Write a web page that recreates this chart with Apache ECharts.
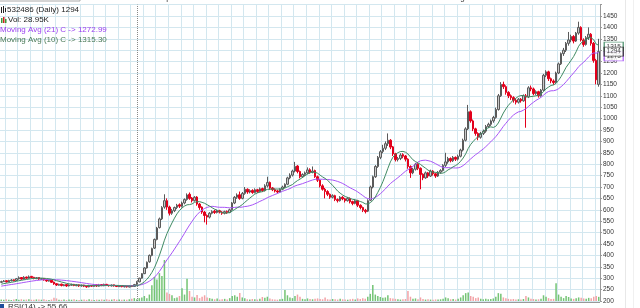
<!DOCTYPE html>
<html><head><meta charset="utf-8">
<script src="https://cdn.jsdelivr.net/npm/echarts/dist/echarts.min.js"></script>
<style>html,body{margin:0;padding:0;background:#fff}#c{width:640px;height:308px}</style>
</head><body><div id="c"></div>
<script>
// Daily candles: [open, close, low, high]
const ohlc = [
[282,285,279,289],[285,288,283,292],[289,284,281,291],[284,290,282,293],[289,292,286,296],
[293,289,286,295],[290,298,288,301],[297,302,294,308],[303,296,293,305],[296,304,294,309],
[305,300,297,307],[300,306,298,312],[308,303,299,310],[304,299,295,306],[298,302,296,305],
[303,296,292,304],[295,298,292,301],[299,292,289,300],[293,288,284,295],[287,290,285,293],
[291,282,279,292],[283,275,271,285],[276,270,266,278],[269,273,267,276],[274,268,264,276],
[267,271,265,274],[272,266,262,274],[266,270,264,273],[269,272,267,276],[273,268,265,275],
[267,271,265,274],[271,266,262,273],[266,269,263,272],[270,265,261,271],[265,262,258,267],
[262,268,260,271],[268,265,262,270],[264,270,263,274],[271,266,262,272],[265,271,263,275],
[272,268,265,274],[267,273,265,276],[273,269,266,275],[270,267,263,271],[266,270,264,272],
[271,266,263,272],[266,264,261,268],[263,267,261,269],[268,263,260,269],[262,265,260,267],
[265,262,259,267],[261,266,260,268],[267,264,261,268],[264,272,262,275],[272,285,270,288],
[284,300,282,302],[300,320,298,322],[320,345,318,348],[345,370,342,373],[372,400,368,404],
[400,430,396,434],[432,470,428,474],[470,520,466,525],[522,560,518,566],[560,610,555,616],
[612,640,605,668],[640,612,600,650],[612,585,575,618],[585,596,578,604],[596,610,590,614],
[610,620,603,626],[622,616,608,628],[615,630,610,636],[630,645,624,650],[645,665,640,672],
[668,650,644,676],[652,640,632,656],[640,655,636,660],[656,625,618,660],[625,610,600,630],
[612,590,582,615],[590,575,545,595],[575,568,535,580],[568,585,562,590],[585,592,580,598],
[594,588,582,600],[588,595,584,600],[596,590,584,600],[590,585,578,594],[585,592,580,596],
[593,588,582,597],[588,600,585,605],[600,630,596,634],[630,655,625,660],[655,665,648,672],
[666,650,644,680],[650,672,646,678],[672,690,666,700],[690,678,670,694],[678,684,672,690],
[685,676,670,690],[676,688,672,694],[688,680,674,692],[680,692,676,698],[693,684,678,697],
[684,705,680,712],[705,720,698,745],[720,695,688,724],[696,688,682,700],[688,682,676,694],
[683,678,672,688],[678,690,674,694],[690,700,686,706],[700,712,695,716],[712,740,708,745],
[740,752,734,760],[752,770,746,776],[770,790,764,810],[792,768,760,796],[768,745,738,772],
[745,755,740,760],[755,762,748,768],[762,775,756,786],[776,765,758,782],[765,770,760,790],
[772,745,740,776],[745,730,722,750],[730,705,698,734],[705,690,684,712],[690,680,650,696],
[680,668,660,686],[668,655,648,672],[655,662,650,668],[662,645,638,666],[645,640,632,650],
[640,655,636,660],[655,648,642,660],[648,640,632,652],[640,650,636,656],[650,635,628,654],
[636,628,620,640],[628,640,624,646],[640,620,612,644],[620,610,602,624],[610,598,590,614],
[598,592,584,604],[594,640,590,646],[642,700,638,706],[700,745,694,750],[745,790,740,796],
[790,830,784,836],[830,855,822,862],[856,870,848,885],[870,890,862,900],[890,905,880,935],
[905,875,866,910],[876,845,836,880],[846,820,812,850],[820,825,812,832],[825,840,818,848],
[842,835,826,848],[836,822,812,840],[822,790,780,826],[790,762,740,795],[762,778,756,784],
[778,800,772,806],[800,782,774,804],[782,755,690,786],[756,740,730,760],[740,762,736,768],
[762,748,740,766],[748,770,744,776],[770,758,750,774],[758,748,740,762],[748,765,744,770],
[765,772,758,778],[772,795,768,800],[795,810,788,850],[810,825,802,832],[825,815,808,830],
[815,830,810,836],[830,822,814,834],[822,835,816,842],[835,862,830,868],[862,905,856,912],
[905,955,900,962],[955,1030,950,1060],[1030,990,982,1036],[990,955,945,996],[955,935,925,960],
[935,918,905,940],[918,935,912,942],[935,945,928,952],[945,965,938,972],[965,975,958,982],
[975,990,968,996],[990,1005,982,1012],[1005,1040,1000,1048],[1040,1100,1035,1108],[1100,1150,1095,1160],
[1150,1140,1130,1162],[1140,1115,1105,1146],[1115,1100,1090,1120],[1100,1092,1082,1106],[1092,1080,1070,1098],
[1080,1072,1062,1086],[1072,1085,1066,1090],[1085,1078,1070,1090],[1078,1100,1074,1106],[1100,1095,960,1108],
[1095,1135,1090,1142],[1135,1130,1120,1145],[1130,1110,1102,1136],[1110,1118,1104,1124],[1118,1100,1092,1122],
[1100,1125,1096,1130],[1125,1190,1120,1196],[1190,1205,1182,1212],[1205,1175,1165,1210],[1175,1165,1155,1180],
[1165,1158,1148,1172],[1158,1200,1152,1206],[1200,1240,1195,1246],[1240,1285,1235,1290],[1285,1300,1275,1310],
[1300,1330,1292,1336],[1330,1345,1320,1380],[1345,1360,1335,1368],[1360,1340,1330,1366],[1340,1375,1336,1380],
[1375,1400,1368,1425],[1400,1345,1338,1405],[1345,1325,1315,1352],[1325,1355,1320,1362],[1355,1370,1345,1400],
[1370,1330,1320,1375],[1330,1255,1245,1336],[1255,1170,1150,1262],[1150,1294,1140,1350]
];
// Volume in thousands
const volumes = [
10,8,12,9,7,11,14,9,12,8, 10,13,9,8,11,10,9,12,8,7, 10,22,18,9,8,11,7,10,9,12,
8,7,9,10,8,12,9,7,10,8, 11,9,12,8,10,14,9,11,8,10, 9,12,15,20,
12,20,25,35,20,45,110,168,150,195, 175,287,60,50,40,20,25,35,90,45,
155,70,30,25,42,20,30,40,25,20, 15,12,18,10,12,15,10,
20,35,40,30,56,25,20,12,10,14, 12,10,15,28,22,30,18,12,10,9,
12,15,77,40,25,20,35,45,30,15, 12,18,14,12,15,18,14,12,25,
12,10,14,12,10,15,12,10,9,12, 15,10,18,14,20,16,30,50,112,45,
35,28,22,25,40,20,18,15,12,10, 12,14,70,30,15,18,12,25,14,10,
12,10,9,11,10,12,15,25,20,
12,14,10,15,25,40,55,60,35,30, 20,25,15,12,15,12,14,18,30,55,
50,25,20,15,12,14,10,12,10,14, 35,25,15,14,10,12,15,40,30,20,
14,15,125,45,30,20,35,28,18,15, 20,25,22,18,15,22,20,30,35,29
];
// Closes before the first visible day (seed for moving averages)
const priorCloses = [248,252,250,255,258,256,260,262,259,264,266,263,268,270,272,269,274,276,279,282];
const yMin = 200, yMax = 1500, yStep = 50;
const lastClose = 1294, ma21Last = 1272.99, ma10Last = 1315.30;
const yearStartIndex = 54;
const headerTexts = [["Dt 31-10-17",85],["Op 1150.00",160],["Hi 1350.00",230],["Lo 1140.00",303],["Cl 1294.00",377],["Chg 124.00",450],["Vol 28.95K",522]];

const cats = ohlc.map((r,i)=>String(i));
const allC = priorCloses.concat(ohlc.map(r=>r[1]));
function ma(n){
  return ohlc.map((r,i)=>{const end=i+priorCloses.length;let s=0;for(let k=end-n+1;k<=end;k++)s+=allC[k];return +(s/n).toFixed(2);});
}
const candleData = ohlc.map((r,i)=>{
  const prev = i>0 ? ohlc[i-1][1] : priorCloses[priorCloses.length-1];
  const up = r[1] >= prev, hollow = r[1] >= r[0];
  let fill, border;
  if (up && hollow){fill='#c8c8c8';border='#5a5a5a';}
  else if (up){fill='#444';border='#444';}
  else if (hollow){fill='#f6b4b4';border='#e8585e';}
  else {fill='#e3001b';border='#e3001b';}
  return {value:r,itemStyle:{color:fill,color0:fill,borderColor:border,borderColor0:border,borderWidth:1}};
});
const volData = volumes.map((v,i)=>{
  const prev = i>0 ? ohlc[i-1][1] : priorCloses[priorCloses.length-1];
  const up = ohlc[i][1] >= prev;
  return {value:v,itemStyle:{color: up ? '#74c474' : '#f3a2a6'}};
});
const FONT = '"Liberation Sans", Arial, sans-serif';
const gridColor = '#d3e7ef';
const lastIdx = ohlc.length-1;
function box(value, text, color, z){
  return {type:'scatter', xAxisIndex:0, yAxisIndex:0, z:z, clip:false, silent:true,
    data:[[lastIdx, value]], symbol:'rect', symbolSize:[19,9], symbolOffset:[15,0],
    itemStyle:{color:'#fff', borderColor:color, borderWidth:1},
    label:{show:true, position:'inside', formatter:text, fontSize:6.5, color:'#111', fontFamily:FONT}};
}
const chart = echarts.init(document.getElementById('c'), null, {renderer:'canvas'});
chart.setOption({
  animation:false,
  backgroundColor:'#fff',
  grid:[{left:0,right:40,top:4.6,bottom:7},{left:0,right:40,bottom:7,height:100}],
  xAxis:[
    {type:'category',data:cats,gridIndex:0,boundaryGap:true,axisLabel:{show:false},axisTick:{show:false},axisLine:{show:false},
     splitLine:{show:true,interval:(i)=>i%5===2,lineStyle:{color:gridColor,width:1}}},
    {type:'category',data:cats,gridIndex:1,boundaryGap:true,show:false}
  ],
  yAxis:[
    {type:'value',gridIndex:0,position:'right',min:yMin,max:yMax,interval:yStep,scale:false,
     axisLine:{show:true,lineStyle:{color:'#999'}},axisTick:{show:true,length:2,lineStyle:{color:'#999'}},
     axisLabel:{fontSize:6.5,color:'#333',margin:3,fontFamily:FONT,formatter:(v)=>v>=yMax?'':String(v)},
     splitLine:{show:true,lineStyle:{color:gridColor,width:1}}},
    {type:'value',gridIndex:1,min:0,max:700,show:false,splitLine:{show:false}}
  ],
  series:[
    {type:'bar',xAxisIndex:1,yAxisIndex:1,data:volData,barWidth:'60%',z:1,silent:true},
    {type:'candlestick',xAxisIndex:0,yAxisIndex:0,data:candleData,barWidth:'80%',z:3,silent:true,
     markLine:{silent:true,symbol:'none',label:{show:false},lineStyle:{type:'dotted',color:'#888',width:1},
       data:[{xAxis:String(yearStartIndex)}]}},
    {type:'line',data:ma(21),symbol:'none',lineStyle:{color:'#a855f7',width:1},z:4,silent:true},
    {type:'line',data:ma(10),symbol:'none',lineStyle:{color:'#3f8a62',width:1},z:4,silent:true},
    box(ma10Last,'1315','#3f8a62',10),
    box(ma21Last,'1273','#a855f7',11),
    box(lastClose,String(lastClose),'#222',12)
  ],
  graphic:[
    {type:'rect',shape:{x:-1,y:-10,width:81,height:11},style:{fill:'none',stroke:'#aaa',lineWidth:1},z:20},
    ...headerTexts.map(t=>({type:'text',x:t[1],y:-6,style:{text:t[0],font:'8px '+FONT,fill:'#333'},z:20})),
    {type:'rect',shape:{x:1,y:7,width:1,height:6},style:{fill:'#222'},z:20},
    {type:'rect',shape:{x:3,y:6,width:1,height:7},style:{fill:'#222'},z:20},
    {type:'rect',shape:{x:5,y:8,width:1,height:4},style:{fill:'#222'},z:20},
    {type:'text',x:7,y:5.5,style:{text:'532486 (Daily) 1294',font:'8px '+FONT,fill:'#222'},z:20},
    {type:'rect',shape:{x:1,y:18,width:1.5,height:5},style:{fill:'#3a9a3a'},z:20},
    {type:'rect',shape:{x:3,y:17,width:1.5,height:6},style:{fill:'#d02020'},z:20},
    {type:'rect',shape:{x:5,y:19,width:1.5,height:4},style:{fill:'#3a9a3a'},z:20},
    {type:'text',x:8,y:15.5,style:{text:'Vol: 28.95K',font:'8px '+FONT,fill:'#222'},z:20},
    {type:'text',x:0,y:25.5,style:{text:'Moving Avg (21) C -> 1272.99',font:'8px '+FONT,fill:'#9b40f0'},z:20},
    {type:'text',x:0,y:35.5,style:{text:'Moving Avg (10) C -> 1315.30',font:'8px '+FONT,fill:'#4b7a58'},z:20},
    {type:'line',shape:{x1:0,y1:302.5,x2:600,y2:302.5},style:{stroke:'#999',lineWidth:1},z:20},
    {type:'rect',shape:{x:0,y:304,width:4,height:4},style:{fill:'#1f4e9c'},z:20},
    {type:'text',x:8,y:303,style:{text:'RSI(14) -> 55.66',font:'8px '+FONT,fill:'#333'},z:20},
    {type:'line',shape:{x1:625.5,y1:0,x2:625.5,y2:308},style:{stroke:'#e8e8e8',lineWidth:1},z:0},
    {type:'line',shape:{x1:633.5,y1:0,x2:633.5,y2:308},style:{stroke:'#f0f0f0',lineWidth:1},z:0}
  ]
});
</script></body></html>
